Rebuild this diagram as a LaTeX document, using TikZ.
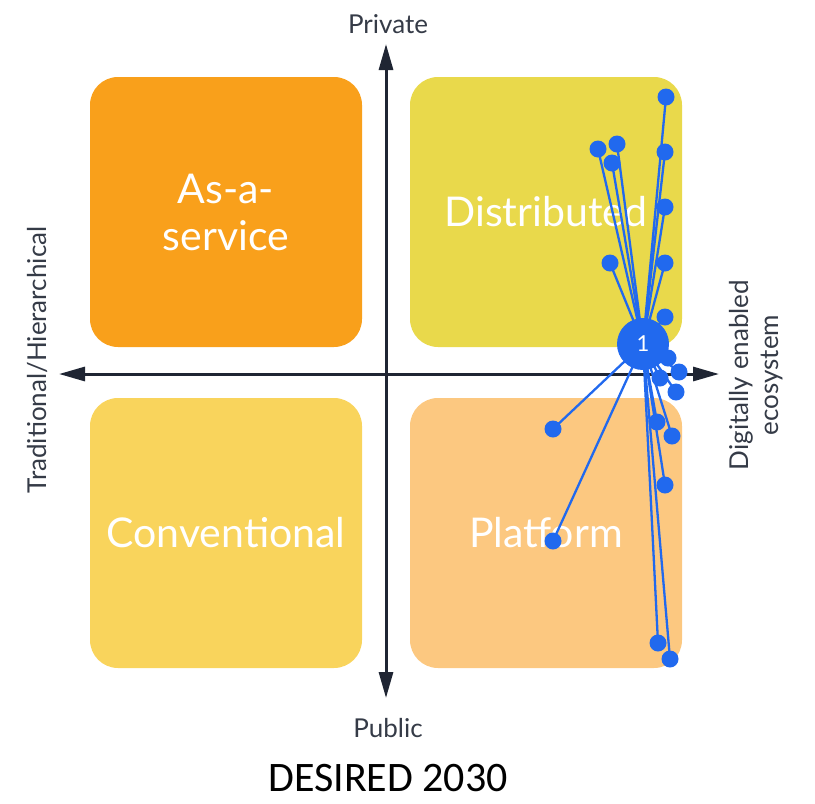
\documentclass[tikz,border=0pt]{standalone}
\usepackage{fontspec}
\setmainfont{Lato}
\newfontfamily\captionfont{Carlito}
\usetikzlibrary{arrows.meta, positioning, calc, backgrounds}
\pgfdeclarelayer{edges}
\pgfsetlayers{background,edges,main}

\definecolor{svcorange}{HTML}{F9A01B}
\definecolor{distyellow}{HTML}{E9D94B}
\definecolor{convyellow}{HTML}{F9D45C}
\definecolor{platorange}{HTML}{FCC880}
\definecolor{dotblue}{HTML}{2169EE}
\definecolor{axisnavy}{HTML}{1F2533}

\begin{document}
\begin{tikzpicture}[
    x=1pt, y=-1pt,
    every node/.style={align=center},
    quad/.style={rounded corners=28pt, minimum width=272pt, minimum height=270pt,
                 text=white, font=\fontsize{41}{47}\selectfont},
    axis/.style={draw=axisnavy, line width=3pt,
                 {Triangle[length=26pt,width=14pt]}-{Triangle[length=26pt,width=14pt]}},
    axislabel/.style={text=axisnavy!90, font=\fontsize{26}{30}\selectfont},
    dot/.style={circle, fill=dotblue, inner sep=0pt, minimum size=17pt},
    link/.style={draw=dotblue, line width=2.3pt}
]
\useasboundingbox (0,0) rectangle (815,804);

% 1) The four quadrants.
\begin{pgfonlayer}{background}
\node[quad, fill=svcorange] (service) at (226,212) {As-a-\\service};
\node[quad, fill=distyellow] (distributed) at (546,212) {Distributed};
\node[quad, fill=convyellow] (conventional) at (226,533) {Conventional};
\node[quad, fill=platorange] (platform) at (546,533) {Platform};

% 2) Axes.
\coordinate (top) at (386,44);
\coordinate (bottom) at (386,698);
\coordinate (left) at (59,374);
\coordinate (right) at (719,374);
\draw[axis] (bottom) -- (top);
\draw[axis] (left) -- (right);
\end{pgfonlayer}

\node[axislabel] (private) at (388,24) {Private};
\node[axislabel] (public) at (388,728) {Public};
\node[axislabel, rotate=90] (traditional) at (38,360) {Traditional/Hierarchical};
\node[axislabel, rotate=90, font=\fontsize{26}{30}\selectfont] (digital) at (756,375)
   {Digitally enabled\\ecosystem};

% 3) Responses linked to the hub.
\node[dot, minimum size=52pt, text=white, font=\fontsize{22}{24}\selectfont]
   (hub) at (643,344) {1};
\foreach \px/\py [count=\i] in {666/97, 598/149, 617/144, 612/163, 665/152,
    665/207, 610/263, 665/263, 665/317, 668/358, 679/372, 660/378, 676/392,
    553/429, 657/422, 672/436, 665/485, 553/541, 658/643, 670/659} {
  \node[dot] (d\i) at (\px,\py) {};
  \begin{pgfonlayer}{edges}
    \draw[link] (hub.center) -- (d\i.center);
  \end{pgfonlayer}
}

% 4) Caption.
\node[font=\captionfont\fontsize{42}{46}\selectfont] (caption) at (388,778)
   {DESIRED 2030};

\end{tikzpicture}
\end{document}
